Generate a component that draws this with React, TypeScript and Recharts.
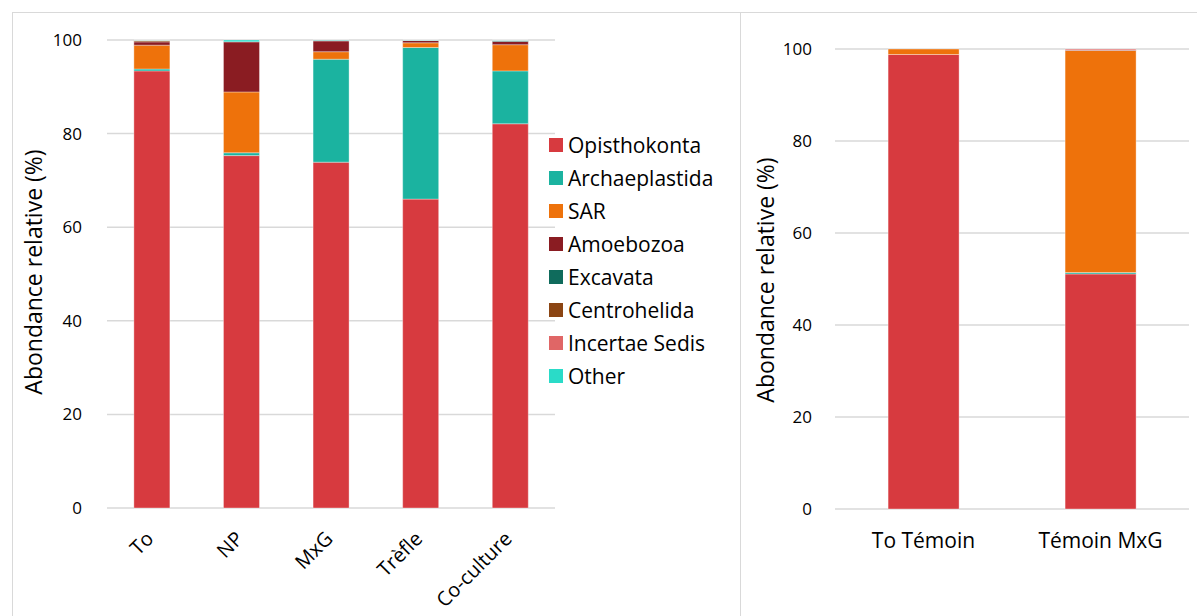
import React from "react";
import {
  BarChart,
  Bar,
  XAxis,
  YAxis,
  CartesianGrid,
} from "recharts";

// groups, bottom to top of each stack
const groups = [
  "Opisthokonta",
  "Archaeplastida",
  "SAR",
  "Amoebozoa",
  "Excavata",
  "Centrohelida",
  "Incertae Sedis",
  "Other",
];

const colors = [
  "#D73A3F",
  "#1BB3A0",
  "#EE720B",
  "#8A1C22",
  "#0F6B5C",
  "#8B4513",
  "#E06666",
  "#2ADBC8",
];

// left panel
const leftCategories = ["To", "NP", "MxG", "Trèfle", "Co-culture"];
const opisthokontaLeft = [93.4, 75.3, 73.9, 66.0, 82.1];
const archaeplastidaLeft = [0.4, 0.6, 22.0, 32.4, 11.3];
const sarLeft = [5.1, 13.0, 1.6, 1.0, 5.6];
const amoebozoaLeft = [0.7, 10.7, 2.3, 0.5, 0.7];
const excavataLeft = [0.0, 0.0, 0.15, 0.05, 0.2];
const centrohelidaLeft = [0.3, 0.0, 0.0, 0.0, 0.0];
const incertaeLeft = [0.05, 0.0, 0.0, 0.0, 0.05];
const otherLeft = [0.05, 0.4, 0.05, 0.05, 0.05];

// right panel
const rightCategories = ["To Témoin", "Témoin MxG"];
const opisthokontaRight = [98.8, 51.1];
const archaeplastidaRight = [0.0, 0.3];
const sarRight = [1.2, 48.3];
const amoebozoaRight = [0.0, 0.1];
const excavataRight = [0.0, 0.0];
const centrohelidaRight = [0.0, 0.0];
const incertaeRight = [0.0, 0.2];
const otherRight = [0.0, 0.0];

const yTicks = [0, 20, 40, 60, 80, 100];

const font = "'Open Sans', sans-serif";

const buildRows = (cats: string[], series: number[][]) =>
  cats.map((name, i) => {
    const row: { [key: string]: string | number } = { name };
    groups.forEach((g, j) => {
      row[g] = series[j][i];
    });
    return row;
  });

const leftData = buildRows(leftCategories, [
  opisthokontaLeft,
  archaeplastidaLeft,
  sarLeft,
  amoebozoaLeft,
  excavataLeft,
  centrohelidaLeft,
  incertaeLeft,
  otherLeft,
]);

const rightData = buildRows(rightCategories, [
  opisthokontaRight,
  archaeplastidaRight,
  sarRight,
  amoebozoaRight,
  excavataRight,
  centrohelidaRight,
  incertaeRight,
  otherRight,
]);

const RotatedTick = (props: any) => {
  const { x, y, payload } = props;
  const tx = x + 3;
  const ty = y + 24;
  return (
    <text
      x={tx}
      y={ty}
      textAnchor="end"
      fontSize={20}
      fontFamily={font}
      fill="#000"
      transform={`rotate(-45, ${tx}, ${ty})`}
    >
      {payload.value}
    </text>
  );
};

const axisLabelStyle = (left: number, top: number): React.CSSProperties => ({
  position: "absolute",
  left,
  top,
  width: 300,
  marginLeft: -150,
  textAlign: "center",
  transform: "rotate(-90deg)",
  fontFamily: font,
  fontSize: 23,
  lineHeight: "28px",
  marginTop: -14,
  color: "#000",
  whiteSpace: "nowrap",
});

export default function App() {
  return (
    <div
      style={{
        position: "absolute",
        left: 0,
        top: 0,
        width: 1197,
        height: 616,
        background: "#fff",
        overflow: "hidden",
      }}
    >
      {/* panel frame */}
      <div
        style={{
          position: "absolute",
          left: 12,
          top: 12,
          width: 1190,
          height: 620,
          borderTop: "1px solid #d9d9d9",
          borderLeft: "1px solid #d9d9d9",
        }}
      />
      <div
        style={{
          position: "absolute",
          left: 740,
          top: 13,
          width: 1,
          height: 620,
          background: "#d9d9d9",
        }}
      />

      <div style={{ position: "absolute", left: 0, top: 0 }}>
        <BarChart
          width={740}
          height={616}
          data={leftData}
          margin={{ top: 40, right: 185, bottom: 0, left: 0 }}
          barCategoryGap="30%"
        >
          <CartesianGrid vertical={false} stroke="#d9d9d9" strokeWidth={1.5} />
          <XAxis
            dataKey="name"
            height={108}
            axisLine={false}
            tickLine={false}
            interval={0}
            tick={<RotatedTick />}
          />
          <YAxis
            width={107}
            domain={[0, 100]}
            ticks={yTicks}
            axisLine={false}
            tickLine={false}
            tickMargin={19}
            tick={{ fontSize: 17, fontFamily: font, fill: "#000" }}
          />
          {groups.map((g, i) => (
            <Bar
              key={g}
              dataKey={g}
              stackId="a"
              fill={colors[i]}
              stroke="#ffffff"
              strokeOpacity={0.35}
              strokeWidth={1}
              isAnimationActive={false}
            />
          ))}
        </BarChart>
      </div>
      <div style={axisLabelStyle(33, 272)}>Abondance relative (%)</div>

      {/* legend */}
      <div
        style={{
          position: "absolute",
          left: 549,
          top: 128,
          fontFamily: font,
          fontSize: 21,
          color: "#000",
        }}
      >
        {groups.map((g, i) => (
          <div
            key={g}
            style={{ display: "flex", alignItems: "center", height: 33 }}
          >
            <span
              style={{
                width: 14,
                height: 14,
                background: colors[i],
                marginRight: 5,
                display: "inline-block",
              }}
            />
            <span>{g}</span>
          </div>
        ))}
      </div>

      <div style={{ position: "absolute", left: 740, top: 0 }}>
        <BarChart
          width={457}
          height={616}
          data={rightData}
          margin={{ top: 49, right: 8, bottom: 0, left: 0 }}
          barCategoryGap="30%"
        >
          <CartesianGrid vertical={false} stroke="#d9d9d9" strokeWidth={1.5} />
          <XAxis
            dataKey="name"
            height={107}
            axisLine={false}
            tickLine={false}
            interval={0}
            tickMargin={18}
            tick={{ fontSize: 21, fontFamily: font, fill: "#000" }}
          />
          <YAxis
            width={95}
            domain={[0, 100]}
            ticks={yTicks}
            axisLine={false}
            tickLine={false}
            tickMargin={17}
            tick={{ fontSize: 17, fontFamily: font, fill: "#000" }}
          />
          {groups.map((g, i) => (
            <Bar
              key={g}
              dataKey={g}
              stackId="b"
              fill={colors[i]}
              stroke="#ffffff"
              strokeOpacity={0.35}
              strokeWidth={1}
              isAnimationActive={false}
            />
          ))}
        </BarChart>
      </div>
      <div style={axisLabelStyle(765, 280)}>Abondance relative (%)</div>
    </div>
  );
}
